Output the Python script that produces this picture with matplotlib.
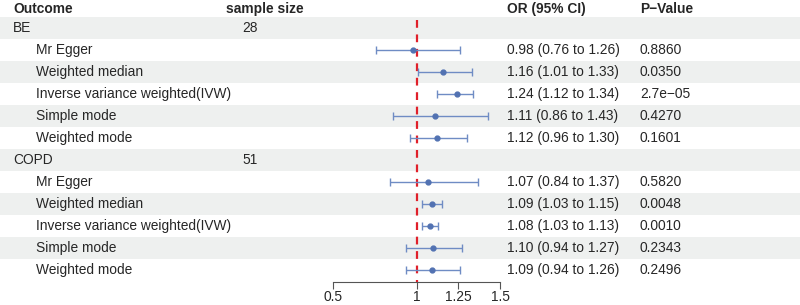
import matplotlib
matplotlib.use("Agg")
import matplotlib.pyplot as plt
from matplotlib.patches import Rectangle

plt.rcParams['font.family'] = ['Liberation Sans', 'DejaVu Sans']

# ---- data ----
outcomes = ["BE", "COPD"]
sample_sizes = ["28", "51"]
methods = ["Mr Egger", "Weighted median", "Inverse variance weighted(IVW)",
           "Simple mode", "Weighted mode"]
be_or = [0.98, 1.16, 1.24, 1.11, 1.12]
be_lo = [0.76, 1.01, 1.12, 0.86, 0.96]
be_hi = [1.26, 1.33, 1.34, 1.43, 1.30]
be_p = ["0.8860", "0.0350", "2.7e\u221205", "0.4270", "0.1601"]
copd_or = [1.07, 1.09, 1.08, 1.10, 1.09]
copd_lo = [0.84, 1.03, 1.03, 0.94, 0.94]
copd_hi = [1.37, 1.15, 1.13, 1.27, 1.26]
copd_p = ["0.5820", "0.0048", "0.0010", "0.2343", "0.2496"]
xticks = [0.5, 1, 1.25, 1.5]
xtick_labels = ["0.5", "1", "1.25", "1.5"]
headers = ["Outcome", "sample size", "OR (95% CI)", "P\u2212Value"]

# ---- layout ----
W, H = 800, 305
row_top = 17
row_h = 22
axis_y = 282
txt_col = '#262626'
fs = 9.9
gray = '#EEF0EF'
ci_col = '#6F8CC4'
pt_col = '#5272B2'

fig = plt.figure(figsize=(8, 3.05), dpi=100)
bg = fig.add_axes([0, 0, 1, 1])
bg.set_xlim(0, W)
def px_to_row(p):
    return (p - row_top) / row_h - 0.5
bg.set_ylim(px_to_row(H), px_to_row(0))
bg.axis('off')

rows = []
for name, n, ors, los, his, ps in [
        (outcomes[0], sample_sizes[0], be_or, be_lo, be_hi, be_p),
        (outcomes[1], sample_sizes[1], copd_or, copd_lo, copd_hi, copd_p)]:
    rows.append(dict(label=name, indent=False, n=n))
    for m, o, l, h, p in zip(methods, ors, los, his, ps):
        rows.append(dict(label=m, indent=True, or_=o, lo=l, hi=h, p=p))

for i, r in enumerate(rows):
    if i % 2 == 0:
        bg.add_patch(Rectangle((0, i - 0.5), W, 1, color=gray, lw=0, zorder=0))
    x = 36 if r['indent'] else 13
    bg.text(x, i, r['label'], fontsize=fs, color=txt_col, va='center', ha='left')
    if 'n' in r:
        bg.text(242, i, r['n'], fontsize=fs, color=txt_col, va='center', ha='left')
    if 'or_' in r:
        bg.text(507, i, f"{r['or_']:.2f} ({r['lo']:.2f} to {r['hi']:.2f})",
                fontsize=fs, color=txt_col, va='center', ha='left')
        bg.text(640, i, r['p'], fontsize=fs, color=txt_col, va='center', ha='left')

hy = px_to_row(9)
for x, t in zip([13, 226, 507, 640], headers):
    bg.text(x, hy, t, fontsize=fs, color=txt_col, fontweight='bold',
            va='center', ha='left')

# ---- forest axes ----
x0, x1 = 333, 500
fa = fig.add_axes([x0 / W, (H - axis_y) / H, (x1 - x0) / W, (axis_y - row_top) / H])
fa.set_xlim(0.5, 1.5)
fa.set_ylim(px_to_row(axis_y), px_to_row(row_top))
fa.patch.set_alpha(0)
for s in ['top', 'right', 'left']:
    fa.spines[s].set_visible(False)
fa.spines['bottom'].set_color('#555555')
fa.spines['bottom'].set_linewidth(0.8)
fa.set_yticks([])
fa.set_xticks(xticks)
fa.set_xticklabels(xtick_labels, fontsize=fs, color=txt_col)
fa.tick_params(axis='x', direction='out', length=5, width=0.8, color='#555555', pad=0.5)

fa.plot([1, 1], [px_to_row(20), px_to_row(axis_y)], color='#E0202A', lw=1.6,
        ls=(0, (3.5, 3)), zorder=3, clip_on=False)

for i, r in enumerate(rows):
    if 'or_' not in r:
        continue
    fa.errorbar(r['or_'], i, xerr=[[r['or_'] - r['lo']], [r['hi'] - r['or_']]],
                fmt='o', ms=3.5, color=pt_col, ecolor=ci_col, elinewidth=1.0,
                capsize=3, capthick=1.0, zorder=4, clip_on=False)

fig.savefig("out.png", dpi=100)
